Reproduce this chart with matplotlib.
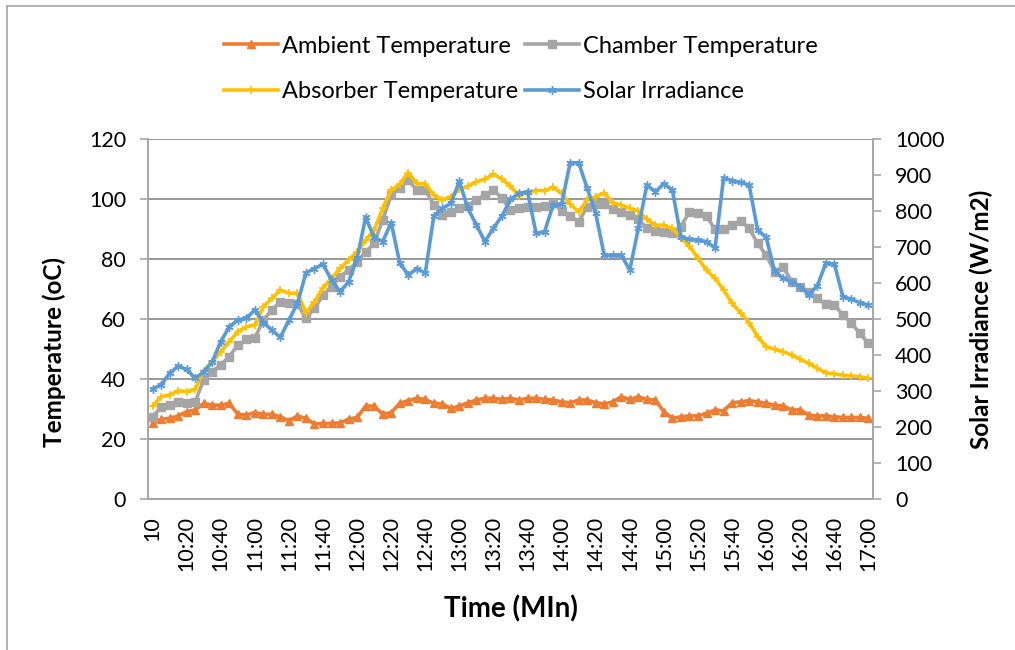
import matplotlib
matplotlib.use('Agg')
import matplotlib.pyplot as plt
from matplotlib.lines import Line2D

# readings every 5 minutes from 10:00 to 17:00
ambient = [25.5, 26.7, 27.0, 27.8, 29.2, 29.8, 32.0, 31.4, 31.4, 32.0, 28.4, 28.1, 28.9, 28.4, 28.3,
           27.5, 26.2, 27.8, 27.0, 25.1, 25.3, 25.3, 25.5, 26.7, 27.3, 31.1, 31.1, 28.4, 28.9, 32.0,
           32.9, 33.7, 33.3, 32.0, 31.8, 30.3, 31.1, 32.2, 33.1, 33.7, 33.7, 33.3, 33.7, 33.1, 33.7,
           33.7, 33.3, 33.1, 32.5, 32.2, 33.1, 33.1, 32.2, 31.8, 32.5, 34.2, 33.3, 34.2, 33.3, 33.1,
           29.2, 27.0, 27.5, 27.8, 27.8, 28.7, 29.8, 29.5, 32.2, 32.5, 32.9, 32.5, 32.0, 31.4, 31.1,
           29.8, 29.8, 28.1, 27.8, 27.8, 27.5, 27.3, 27.3, 27.3, 27.0]
chamber = [27.5, 30.7, 31.4, 32.5, 32.0, 32.5, 39.8, 42.6, 44.8, 47.6, 51.4, 53.3, 53.7, 59.8, 63.1,
           65.9, 65.3, 65.1, 60.3, 63.7, 68.0, 70.9, 74.2, 76.4, 79.2, 82.5, 85.3, 93.1, 101.4, 103.7,
           106.4, 103.1, 103.1, 98.1, 94.8, 95.9, 97.0, 97.8, 99.8, 101.4, 103.1, 100.3, 96.4, 97.0, 97.3,
           97.6, 97.8, 98.7, 96.2, 94.4, 92.5, 97.6, 98.4, 98.4, 96.7, 95.9, 94.8, 93.3, 90.3, 89.5,
           89.2, 88.9, 90.9, 95.9, 95.5, 94.4, 90.0, 90.0, 91.4, 92.9, 90.3, 85.3, 81.4, 75.9, 77.5,
           72.5, 70.9, 69.2, 67.0, 65.1, 64.8, 61.4, 58.7, 55.3, 52.0]
absorber = [31.1, 34.2, 34.8, 36.2, 35.9, 36.7, 42.9, 45.9, 49.2, 52.5, 55.9, 57.5, 58.1, 64.2, 67.0,
            69.8, 68.7, 68.7, 62.2, 65.9, 70.5, 73.7, 77.0, 79.8, 82.5, 86.4, 89.8, 97.0, 103.1, 105.1,
            108.9, 105.3, 105.1, 101.4, 99.8, 100.9, 103.3, 104.4, 105.9, 106.7, 108.4, 106.7, 104.4, 101.1, 102.5,
            102.9, 102.9, 104.0, 102.0, 98.4, 95.9, 99.8, 100.9, 102.2, 98.9, 98.1, 97.0, 96.2, 93.3, 91.4,
            91.4, 90.3, 87.0, 84.5, 80.3, 76.4, 73.7, 69.8, 65.3, 62.2, 58.9, 54.2, 50.9, 50.0, 49.2,
            48.1, 46.7, 45.3, 43.7, 42.2, 41.8, 41.4, 41.1, 40.9, 40.3]
solar = [306, 318, 350, 370, 361, 336, 354, 382, 438, 479, 498, 503, 526, 491, 470,
         450, 498, 544, 629, 641, 653, 609, 577, 604, 669, 783, 728, 716, 768, 657,
         623, 641, 628, 787, 808, 822, 883, 808, 762, 716, 753, 787, 833, 850, 854,
         739, 743, 818, 820, 935, 935, 864, 794, 678, 678, 678, 637, 753, 873, 854,
         877, 858, 729, 722, 720, 716, 698, 892, 885, 880, 873, 748, 728, 633, 614,
         604, 591, 568, 593, 656, 654, 563, 556, 546, 540]

time_labels = ['10', '10:20', '10:40', '11:00', '11:20', '11:40', '12:00', '12:20', '12:40',
               '13:00', '13:20', '13:40', '14:00', '14:20', '14:40', '15:00', '15:20', '15:40',
               '16:00', '16:20', '16:40', '17:00']

plt.rcParams['font.family'] = ['Lato', 'DejaVu Sans']

c_amb = '#ED7D31'
c_cha = '#A5A5A5'
c_abs = '#FFC000'
c_sol = '#5B9BD5'
grid_c = '#868686'

fig = plt.figure(figsize=(10.15, 6.5), dpi=100)
ax = fig.add_axes([0.1461, 0.2318, 0.7137, 0.5539])
ax2 = ax.twinx()

x = list(range(len(ambient)))

l1, = ax.plot(x, ambient, color=c_amb, lw=2.6, marker='^', ms=6, label='Ambient Temperature')
l2, = ax.plot(x, chamber, color=c_cha, lw=2.6, marker='s', ms=6, label='Chamber Temperature')
l3, = ax.plot(x, absorber, color=c_abs, lw=2.6, marker='+', ms=6, mew=1.2, label='Absorber Temperature')
l4, = ax2.plot(x, solar, color=c_sol, lw=2.6, marker=(6, 2, 0), ms=6, mew=1.0, label='Solar Irradiance')

ax.set_xlim(-0.5, len(x) - 0.5)
ax.set_ylim(0, 120)
ax2.set_ylim(0, 1000)
ax.set_yticks(range(0, 121, 20))
ax2.set_yticks(range(0, 1001, 100))
ax.set_xticks(range(0, len(x), 4))
ax.set_xticklabels(time_labels, rotation=90)

ax.grid(axis='y', color=grid_c, lw=1.2)
ax.set_axisbelow(True)

for a in (ax, ax2):
    a.spines['top'].set_visible(False)
    for s in ('left', 'right', 'bottom'):
        a.spines[s].set_color('#A6A6A6')
        a.spines[s].set_linewidth(1.2)

ax.tick_params(axis='y', length=6, width=1.2, color='#A6A6A6', pad=10, labelsize=15.5)
ax.tick_params(axis='x', length=0, pad=12, labelsize=15.5)
ax2.tick_params(axis='y', length=6, width=1.2, color='#A6A6A6', pad=10, labelsize=15.5)

ax.set_ylabel('Temperature (oC)', fontsize=17.5, fontweight='bold')
ax.yaxis.set_label_coords(-0.113, 0.41)
ax2.set_ylabel('Solar Irradiance (W/m2)', fontsize=17.5, fontweight='bold')
ax2.yaxis.set_label_coords(1.134, 0.5)
ax.set_xlabel('Time (MIn)', fontsize=20, fontweight='bold')
ax.xaxis.set_label_coords(0.5, -0.266)

# legend in two rows, row-major order
fig.legend([l1, l3, l2, l4],
           ['Ambient Temperature', 'Absorber Temperature', 'Chamber Temperature', 'Solar Irradiance'],
           ncol=2, loc='upper center', bbox_to_anchor=(0.513, 0.978), frameon=False,
           fontsize=17, handlelength=2.3, handletextpad=0.15, columnspacing=0.3,
           labelspacing=1.04)

# chart border (only top and left edges visible)
fig.add_artist(Line2D([0.0069, 0.0069], [0, 0.9908], transform=fig.transFigure, color='#A6A6A6', lw=1.2))
fig.add_artist(Line2D([0.0069, 1.0], [0.9908, 0.9908], transform=fig.transFigure, color='#A6A6A6', lw=1.2))

fig.savefig('out.png', dpi=100)
